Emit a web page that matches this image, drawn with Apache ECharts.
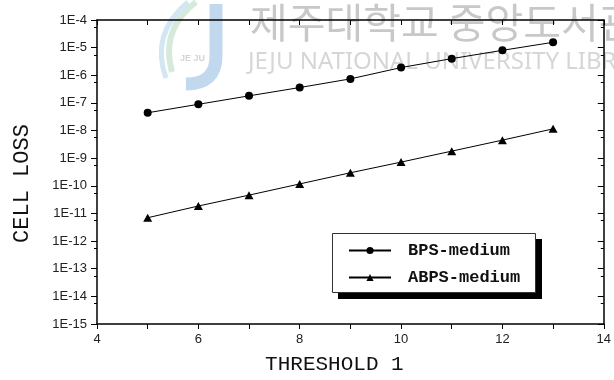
<!DOCTYPE html>
<html>
<head>
<meta charset="utf-8">
<script src="https://cdn.jsdelivr.net/npm/echarts@6/dist/echarts.min.js"></script>
<style>
html,body{margin:0;padding:0;background:#fff;}
#chart{width:614px;height:380px;}
</style>
</head>
<body>
<div id="chart"></div>
<script>
// ---- data ----
const thresholds = [5, 6, 7, 8, 9, 10, 11, 12, 13];
const bpsMedium  = [4.4e-8, 8.9e-8, 1.8e-7, 3.6e-7, 7.4e-7, 1.9e-6, 4.0e-6, 8.0e-6, 1.56e-5];
const abpsMedium = [7.0e-12, 1.86e-11, 4.6e-11, 1.17e-10, 2.97e-10, 7.2e-10, 1.8e-9, 4.5e-9, 1.15e-8];
const seriesNames = ['BPS-medium', 'ABPS-medium'];
const xTitle = 'THRESHOLD 1';
const yTitle = 'CELL LOSS';
const watermarkKo = '제주대학교 중앙도서관';
const watermarkEn = 'JEJU NATIONAL UNIVERSITY LIBRARY';

const chart = echarts.init(document.getElementById('chart'), null, {renderer: 'canvas'});
const mono = '"Liberation Mono", "Courier New", monospace';
const sans = '"Liberation Sans", Arial, sans-serif';
const fmtExp = v => '1E' + Math.round(Math.log10(v));

const axisLine = {show: true, lineStyle: {color: '#000', width: 1.5}};

const option = {
  backgroundColor: '#fff',
  animation: false,
  graphic: [
    // faint library watermark (logo + text)
    {type: 'line', z: -20, silent: true,
     shape: {x1: 216, y1: 4, x2: 216, y2: 56},
     style: {stroke: '#c2d8ef', lineWidth: 13}},
    {type: 'bezierCurve', z: -20, silent: true,
     shape: {x1: 216, y1: 56, cpx1: 216, cpy1: 84, x2: 186, y2: 84},
     style: {stroke: '#c2d8ef', lineWidth: 13, fill: null}},
    {type: 'bezierCurve', z: -20, silent: true,
     shape: {x1: 196, y1: 2, cpx1: 160, cpy1: 30, x2: 172, y2: 72},
     style: {stroke: '#d6eadb', lineWidth: 6, fill: null}},
    {type: 'bezierCurve', z: -20, silent: true,
     shape: {x1: 188, y1: 2, cpx1: 150, cpy1: 34, x2: 166, y2: 78},
     style: {stroke: '#d2e6f3', lineWidth: 5, fill: null}},
    {type: 'text', left: 180, top: 54, z: -19, silent: true,
     style: {text: 'JE JU', font: 'bold 9px "Liberation Sans"', fill: '#d0d6dc'}},
    {type: 'text', left: 250, top: 2, z: -10, silent: true,
     style: {text: watermarkKo, font: '41px "Noto Sans CJK KR"', fill: '#c8c8c8'}},
    {type: 'text', left: 248, top: 50, z: -10, silent: true,
     style: {text: watermarkEn, font: '24px "Noto Sans"', fill: '#d6d6d6'}},
    // legend frame with hard drop shadow
    {type: 'rect', z: 5, silent: true,
     shape: {x: 338, y: 239, width: 204, height: 60},
     style: {fill: '#000'}},
    {type: 'rect', z: 6, silent: true,
     shape: {x: 332.5, y: 233.5, width: 203, height: 59},
     style: {fill: '#fff', stroke: '#333', lineWidth: 1}}
  ],
  grid: {left: 97, right: 7, top: 20, bottom: 53, containLabel: false},
  legend: {
    orient: 'vertical',
    left: 332, top: 233,
    padding: [9, 15, 6, 16],
    itemGap: 10,
    itemWidth: 42, itemHeight: 9,
    z: 10,
    textStyle: {fontFamily: mono, fontSize: 17, fontWeight: 'bold', color: '#111', padding: [0, 0, 0, 12]},
    data: seriesNames
  },
  xAxis: [
    {type: 'value', position: 'bottom', min: 4, max: 14, interval: 2,
     name: xTitle, nameLocation: 'middle', nameGap: 30,
     nameTextStyle: {fontFamily: mono, fontSize: 21, color: '#111', padding: [0, 32, 0, 0]},
     axisLine: axisLine,
     axisTick: {show: true, inside: false, length: 5, lineStyle: {color: '#000', width: 1}},
     minorTick: {show: true, splitNumber: 2, length: 5, lineStyle: {color: '#000', width: 1}},
     axisLabel: {fontFamily: sans, fontSize: 13, color: '#222', margin: 9},
     splitLine: {show: false}},
    {type: 'value', position: 'top', min: 4, max: 14, interval: 2,
     axisLine: axisLine,
     axisTick: {show: true, inside: true, length: 5, lineStyle: {color: '#000', width: 1}},
     minorTick: {show: true, splitNumber: 2, length: 5, lineStyle: {color: '#000', width: 1}},
     axisLabel: {show: false}, splitLine: {show: false}}
  ],
  yAxis: [
    {type: 'log', logBase: 10, position: 'left', min: 1e-15, max: 1e-4, interval: 1,
     name: yTitle, nameLocation: 'middle', nameGap: 64, nameRotate: 90,
     nameTextStyle: {fontFamily: mono, fontSize: 22, color: '#111', padding: [0, 23, 0, 0]},
     axisLine: axisLine,
     axisTick: {show: true, inside: false, length: 6, lineStyle: {color: '#000', width: 1}},
     minorTick: {show: true, splitNumber: 2, length: 3, lineStyle: {color: '#000', width: 1}},
     axisLabel: {fontFamily: sans, fontSize: 13, color: '#222', margin: 10, formatter: fmtExp},
     splitLine: {show: false}},
    {type: 'log', logBase: 10, position: 'right', min: 1e-15, max: 1e-4, interval: 1,
     axisLine: axisLine,
     axisTick: {show: true, inside: true, length: 6, lineStyle: {color: '#000', width: 1}},
     minorTick: {show: true, splitNumber: 2, length: 3, lineStyle: {color: '#000', width: 1}},
     axisLabel: {show: false}, splitLine: {show: false}}
  ],
  series: [
    {name: seriesNames[0], type: 'line', xAxisIndex: 0, yAxisIndex: 0,
     data: thresholds.map((x, i) => [x, bpsMedium[i]]),
     symbol: 'circle', symbolSize: 8,
     lineStyle: {color: '#000', width: 1}, itemStyle: {color: '#000'}},
    {name: seriesNames[1], type: 'line', xAxisIndex: 0, yAxisIndex: 0,
     data: thresholds.map((x, i) => [x, abpsMedium[i]]),
     symbol: 'triangle', symbolSize: [9, 8],
     lineStyle: {color: '#000', width: 1}, itemStyle: {color: '#000'}}
  ]
};
chart.setOption(option);
</script>
</body>
</html>
